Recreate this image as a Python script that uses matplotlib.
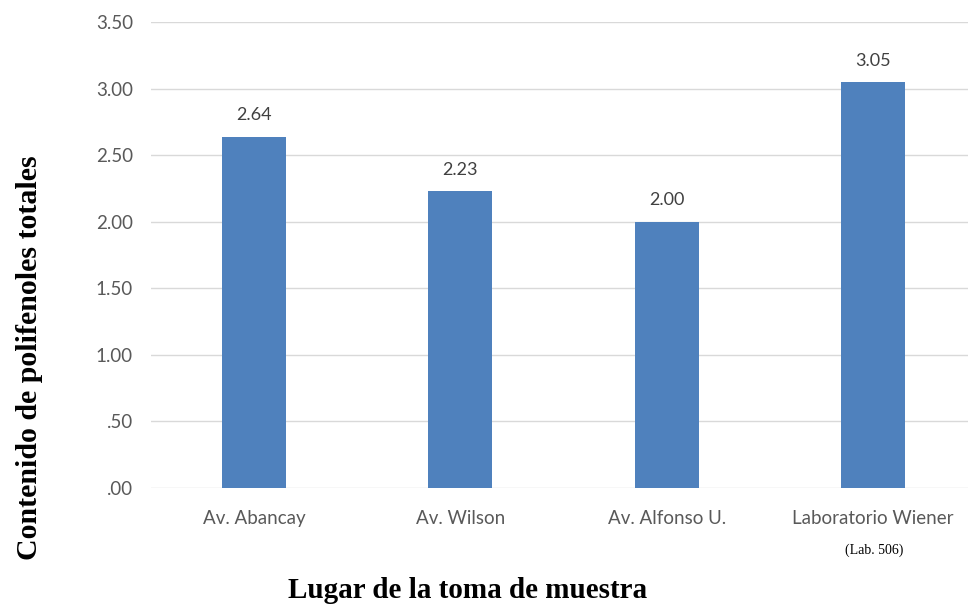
import matplotlib
matplotlib.use("Agg")
import matplotlib.pyplot as plt

categories = ["Av. Abancay", "Av. Wilson", "Av. Alfonso U.", "Laboratorio Wiener"]
values = [2.64, 2.23, 2.00, 3.05]
yticks = [0, 0.5, 1.0, 1.5, 2.0, 2.5, 3.0, 3.5]
ytick_labels = [".00", ".50", "1.00", "1.50", "2.00", "2.50", "3.00", "3.50"]

W, H = 968, 609
fig = plt.figure(figsize=(W / 100, H / 100), dpi=100)
left, right = 151, 968
top, bottom = 22, 488
ax = fig.add_axes([left / W, 1 - bottom / H, (right - left) / W, (bottom - top) / H])

x = list(range(len(categories)))
ax.bar(x, values, width=0.31, color="#4F81BD", zorder=3)
for xi, v in zip(x, values):
    ax.text(xi, v + 0.1, f"{v:.2f}", ha="center", va="bottom", fontsize=13,
            color="#404040", family="Lato")

ax.set_ylim(0, 3.5)
ax.set_xlim(-0.5, 3.5 - 8 / 206.3)
ax.set_yticks(yticks)
ax.set_yticklabels(ytick_labels, fontsize=13.5, color="#595959", family="Lato")
ax.set_xticks(x)
ax.set_xticklabels(categories, fontsize=13.5, color="#595959", family="Lato")
ax.tick_params(axis="x", length=0, pad=16)
ax.tick_params(axis="y", length=0, pad=13)
ax.grid(axis="y", color="#D9D9D9", linewidth=1, zorder=0)
for s in ax.spines.values():
    s.set_visible(False)

fig.text(874 / W, 1 - 550 / H, "(Lab. 506)", ha="center", va="center",
         fontsize=10, family="Liberation Serif")
fig.text(468 / W, 1 - 590 / H, "Lugar de la toma de muestra", ha="center", va="center",
         fontsize=21, fontweight="bold", family="Liberation Serif")
fig.text(30 / W, 1 - 358 / H, "Contenido de polifenoles totales", ha="center", va="center",
         rotation=90, fontsize=21.5, fontweight="bold", family="Liberation Serif")

fig.savefig("out.png", dpi=100)
